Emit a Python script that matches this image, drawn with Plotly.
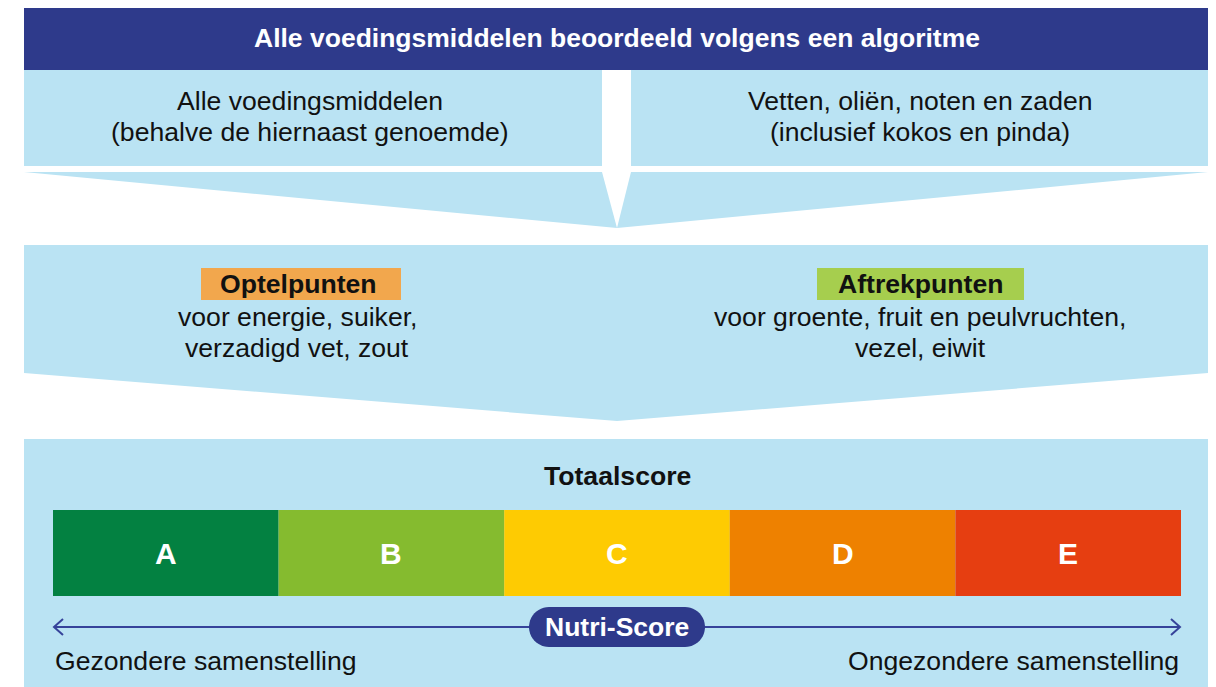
import numpy as np
import plotly.graph_objects as go

W, H = 1216, 687
OFF = 8  # page body margin offset

# ---- content ----
title = "Alle voedingsmiddelen beoordeeld volgens een algoritme"
top_left_lines = ["Alle voedingsmiddelen", "(behalve de hiernaast genoemde)"]
top_right_lines = ["Vetten, oliën, noten en zaden", "(inclusief kokos en pinda)"]
plus_label = "Optelpunten"
plus_lines = ["voor energie, suiker,", "verzadigd vet, zout"]
minus_label = "Aftrekpunten"
minus_lines = ["voor groente, fruit en peulvruchten,", "vezel, eiwit"]
total_label = "Totaalscore"
grades = ["A", "B", "C", "D", "E"]
grade_colors = ["#038141", "#85BB2F", "#FECB02", "#EE8100", "#E63E11"]
pill_label = "Nutri-Score"
left_end = "Gezondere samenstelling"
right_end = "Ongezondere samenstelling"

NAVY = "#2E3A8B"
LIGHT = "#BAE3F3"
FONT = "Liberation Sans, Arial, sans-serif"
FS = 26.6

fig = go.Figure()
shapes = []
ann = []

def rect(x0, y0, x1, y1, color):
    shapes.append(dict(type="rect", x0=x0, y0=y0, x1=x1, y1=y1,
                       fillcolor=color, line=dict(width=0), layer="below"))

def poly(pts, color):
    d = "M " + " L ".join(f"{x},{y}" for x, y in pts) + " Z"
    shapes.append(dict(type="path", path=d, fillcolor=color,
                       line=dict(width=0), layer="below"))

def text(x, y, s, size=FS, color="#111111", bold=False, anchor="center"):
    if bold:
        s = f"<b>{s}</b>"
    ann.append(dict(x=x, y=y, text=s, showarrow=False, xanchor=anchor,
                    yanchor="middle", font=dict(family=FONT, size=size, color=color)))

L, R, CX = 24, 1208, 617

# header
rect(L, 6, R, 70, NAVY)
text(CX, 38, title, size=26.5, color="white", bold=True)

# top two boxes
rect(L, 70, 602, 166, LIGHT)
rect(631, 70, R, 166, LIGHT)
for i, s in enumerate(top_left_lines):
    text(310, 101 + i * 31, s)
for i, s in enumerate(top_right_lines):
    text(920, 101 + i * 31, s)

# first funnel (split by notch)
poly([(L, 172), (602, 172), (CX, 228)], LIGHT)
poly([(631, 172), (R, 172), (CX, 228)], LIGHT)

# middle box + funnel
poly([(L, 245), (R, 245), (R, 373), (CX, 421), (L, 373)], LIGHT)
rect(201, 268, 401, 300, "#F2A74D")
text(298, 284, plus_label, bold=True)
for i, s in enumerate(plus_lines):
    text(297, 317 + i * 31, s)
rect(817, 268, 1024, 300, "#A6CE4E")
text(920, 284, minus_label, bold=True)
for i, s in enumerate(minus_lines):
    text(920, 317 + i * 31, s)

# bottom box
rect(L, 439, R, H + 2, LIGHT)
text(CX, 476, total_label, bold=True)

bx0, bx1 = 53, 1181
seg = (bx1 - bx0) / len(grades)
for i, (g, c) in enumerate(zip(grades, grade_colors)):
    x0 = bx0 + i * seg
    rect(x0, 510, x0 + seg, 596, c)
    text(x0 + seg / 2, 553, g, size=30, color="white", bold=True)

# arrow line
AY = 627
ACOL = "#36439A"
shapes.append(dict(type="line", x0=bx0 + 1, y0=AY, x1=bx1 - 1, y1=AY,
                   line=dict(color=ACOL, width=2)))
shapes.append(dict(type="path", path=f"M {bx0+10},{AY-8} L {bx0+1},{AY} L {bx0+10},{AY+8}",
                   line=dict(color=ACOL, width=2)))
shapes.append(dict(type="path", path=f"M {bx1-10},{AY-8} L {bx1-1},{AY} L {bx1-10},{AY+8}",
                   line=dict(color=ACOL, width=2)))

# pill
px0, px1, py0, py1 = 529, 705, 607, 647
r = (py1 - py0) / 2
th = np.linspace(-np.pi / 2, np.pi / 2, 24)
right = [(px1 - r + r * np.cos(t), AY + r * np.sin(t)) for t in th]
left = [(px0 + r - r * np.cos(t), AY - r * np.sin(t)) for t in th]
pts = right + left
d = "M " + " L ".join(f"{x:.2f},{y:.2f}" for x, y in pts) + " Z"
shapes.append(dict(type="path", path=d, fillcolor=NAVY, line=dict(width=0)))
text(CX, AY, pill_label, size=26.5, color="white", bold=True)

text(bx0, 661, left_end, anchor="left")
text(bx1, 661, right_end, anchor="right")

fig.update_layout(
    width=W - OFF, height=H - OFF, margin=dict(l=0, r=0, t=0, b=0),
    paper_bgcolor="white", plot_bgcolor="white",
    xaxis=dict(range=[OFF, W], visible=False, fixedrange=True),
    yaxis=dict(range=[H, OFF], visible=False, fixedrange=True),
    shapes=shapes, annotations=ann, showlegend=False,
)
fig.write_html("out.html", config={"displayModeBar": False})
